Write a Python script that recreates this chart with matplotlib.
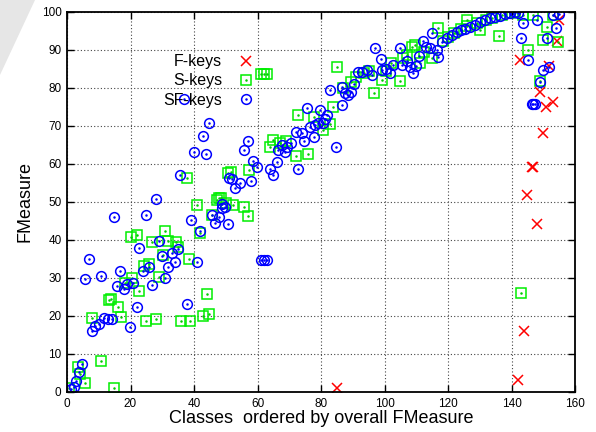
import matplotlib
matplotlib.use("Agg")
import matplotlib.pyplot as plt
from matplotlib.patches import Polygon

plt.rcParams['font.family'] = ['Liberation Sans', 'DejaVu Sans']

# F-keys (red crosses)
f_x = [84.9, 142, 142.7, 144, 145, 146.4, 146.9, 147.9, 149, 150, 150.9, 151.9, 153, 154.4, 155]
f_y = [1.0, 3.2, 87.4, 16.1, 51.8, 59.3, 59.3, 44.2, 79, 68.2, 75.1, 85.9, 76.4, 92.4, 97.9]

# S-keys (green squares)
s_x = [0.7, 3.5, 4.2, 5.8, 7.9, 10.8, 13.1, 14, 14.7, 16.1, 17.1, 18.4, 20, 20.5, 22, 22.8,
       24.1, 24.9, 25.9, 26.7, 28, 28.9, 30.3, 30.9, 31.9, 34.2, 35, 36, 37.9, 38.5, 38.8,
       40.8, 41.9, 42.9, 44, 44.8, 45.8, 47.1, 47.8, 48.6, 50.1, 50.6, 51.5, 52.2, 55.8,
       56.9, 57.4, 61, 62, 63, 63.9, 65, 67, 69, 72.1, 72.9, 76, 77.9, 80.7, 82.8, 83.7,
       84.9, 87, 89.5, 91, 93.5, 95, 96.8, 99.1, 100.5, 102, 104.9, 105.9, 107, 108.6,
       109.5, 111.2, 112.5, 115.1, 116.9, 118.5, 120, 122, 124, 125.9, 126, 129, 130, 132,
       134, 136.2, 137, 139.5, 141, 143, 143.7, 145.1, 146.9, 149, 150, 151.1, 153.2, 154.7]
s_y = [1, 6.7, 4.7, 2.3, 19.4, 8.2, 24.2, 24.4, 1.0, 22.3, 19.8, 28.8, 40.9, 29.9, 41.3, 26.7,
       33.2, 18.8, 33.6, 39.6, 19.1, 30.3, 36, 42.4, 39.8, 39.6, 38.1, 18.7, 56.4, 35.0, 18.7,
       49.2, 41.8, 20.1, 25.7, 20.5, 46.6, 50.5, 51, 51.1, 49.8, 57.7, 58, 49.2, 48.6,
       46.3, 58.4, 83.8, 83.8, 83.8, 64.6, 66.3, 65.5, 66, 62.1, 73, 62.6, 72.4, 68.9, 70.4, 75.1,
       85.4, 80, 81.5, 83, 84, 84.5, 78.6, 82.1, 84.5, 86.5, 81.8, 87.8, 88.7, 90.9,
       91.3, 86.5, 89.5, 88, 95.7, 92.5, 93.5, 94.5, 95.5, 97.9, 96.3, 97, 95.3, 97.8,
       98.3, 93.8, 99.2, 99.8, 100, 26, 99.2, 90, 99.2, 81.8, 92.6, 96.1, 99.2, 92.2]

# SF-keys (blue circles)
sf_x = [1.4, 2.1, 2.8, 3.9, 4.7, 5.8, 6.9, 7.9, 8.9, 10, 10.8, 11.6, 12.9, 14.2, 14.9, 15.8,
        16.8, 18, 18.9, 19.8, 20.8, 22, 22.8, 23.8, 24.9, 25.9, 26.8, 27.9, 28.9, 29.9, 31,
        31.8, 33, 33.9, 34.9, 35.7, 36.9, 37.7, 39, 40, 40.8, 42, 42.9, 43.8, 44.8, 45.8,
        46.7, 48, 48.7, 48.9, 49.8, 50.8, 51.1, 51.9, 52.9, 54.5, 55.8, 57, 57.9, 58.7, 59.7,
        61, 62, 63, 63.9, 64.8, 66, 66.5, 67.6, 68.8, 69.2, 70.5, 72.1, 72.9, 73.9, 74.5,
        75.7, 76.5, 77.9, 78.1, 79.1, 79.7, 80.5, 81.3, 81.8, 82.8, 84.7, 86.5, 86.5, 87.6,
        88.6, 89.5, 90.5, 91.7, 92.8, 94.4, 96, 97, 98.8, 99.1, 100.5, 101.7, 102.8, 104.9,
        105.4, 107, 108, 109.1, 110, 111, 112, 113.1, 114.3, 114.9, 116.4, 116.9, 118, 119.6,
        121.2, 122.7, 124, 125.4, 126.9, 128.5, 130, 131.7, 133.2, 134.8, 136.4, 138, 139.5,
        141, 142, 142.9, 143.7, 145.3, 146.4, 146.9, 147.4, 147.9, 149, 150, 151.1, 151.9,
        153, 153.9, 155]
sf_y = [0.7, 1.4, 2.8, 5.3, 7.4, 29.8, 34.9, 16.0, 17.4, 17.9, 30.6, 19.4, 19.2, 19.1, 46.1, 28.0,
        31.9, 27, 28.3, 17.1, 28.8, 22.5, 37.8, 31.8, 46.5, 32.8, 28.2, 50.8, 39.7, 35.8, 29.9,
        33, 36.5, 34.1, 37.6, 57.1, 77.0, 23.2, 45.3, 63.2, 34.3, 42.4, 67.5, 62.5, 70.7, 46.6,
        44.5, 46, 48.3, 49.5, 48.8, 44.2, 56.2, 56, 53.6, 54.9, 63.7, 66.1, 55.6, 60.9, 59.1,
        34.7, 34.7, 34.7, 58.6, 57.2, 60.6, 63.7, 65, 63.2, 64.6, 65.4, 68.5, 58.8, 68.1, 66.1,
        74.8, 69.8, 67.2, 70.3, 70.7, 74.2, 70.9, 71.8, 72.9, 79.6, 64.4, 80.3, 75.5, 78.8,
        78.2, 79.0, 81.0, 84.3, 84.3, 84.7, 83.4, 90.6, 87.6, 84.7, 85.0, 83.9, 86.1, 90.4,
        86.1, 87, 85.6, 83.9, 85.9, 88.5, 92.4, 90.9, 90.6, 94.6, 90, 88.2, 92.2, 93.1,
        94.0, 94.8, 95.2, 95.5, 96, 96.6, 97.4, 97.9, 98.4, 98.7, 98.9, 99.5, 99.7,
        100, 99.8, 93.1, 97, 87.4, 75.7, 75.7, 75.7, 97.9, 81.5, 84.7, 93.1, 85.6,
        99.2, 95.7, 99.6]

fig = plt.figure(figsize=(5.96, 4.32), dpi=100)
ax = fig.add_axes([67 / 596, 1 - 392 / 432, 508 / 596, 380 / 432])

# grey page-curl wedge in the top-left corner
fig.patches.append(Polygon([(0, 1), (35 / 596, 1), (0, 1 - 75 / 432)], closed=True,
                           transform=fig.transFigure, facecolor='#e6e6e6',
                           edgecolor='none', zorder=0))

ms = 7
red, = ax.plot(f_x, f_y, 'x', color='#ff0000', ms=ms, mew=1.1, ls='none')
grn, = ax.plot(s_x, s_y, 's', color='#00ee00', mfc='none', ms=6.6, mew=1.1, ls='none')
grn_d, = ax.plot(s_x, s_y, '.', color='#00cc00', ms=1.6, ls='none')
blu, = ax.plot(sf_x, sf_y, 'o', color='#0000ff', mfc='none', ms=ms, mew=1.1, ls='none')
blu_d, = ax.plot(sf_x, sf_y, '.', color='#0000ff', ms=1.6, ls='none')

ax.set_xlim(0, 160)
ax.set_ylim(0, 100)
ax.set_xticks(range(0, 161, 20))
ax.set_yticks(range(0, 101, 10))
ax.tick_params(direction='in', top=True, right=True, length=5, width=1, labelsize=8.5,
               colors='black', pad=4)
ax.grid(True, color='#444444', linestyle=(0, (1, 2)), linewidth=0.8)
for sp in ax.spines.values():
    sp.set_linewidth(1.3)

ax.set_xlabel('Classes  ordered by overall FMeasure', fontsize=13, labelpad=0)
ax.set_ylabel('FMeasure', fontsize=13, labelpad=6)

ax.legend([red, (grn, grn_d), (blu, blu_d)], ['F-keys', 'S-keys', 'SF-keys'],
          markerfirst=False, frameon=False, fontsize=11.5, loc='upper right',
          bbox_to_anchor=(0.368, 0.889), borderpad=0, borderaxespad=0,
          handlelength=1.0, handletextpad=1.0, labelspacing=0.27)

fig.savefig('out.png', dpi=100)
